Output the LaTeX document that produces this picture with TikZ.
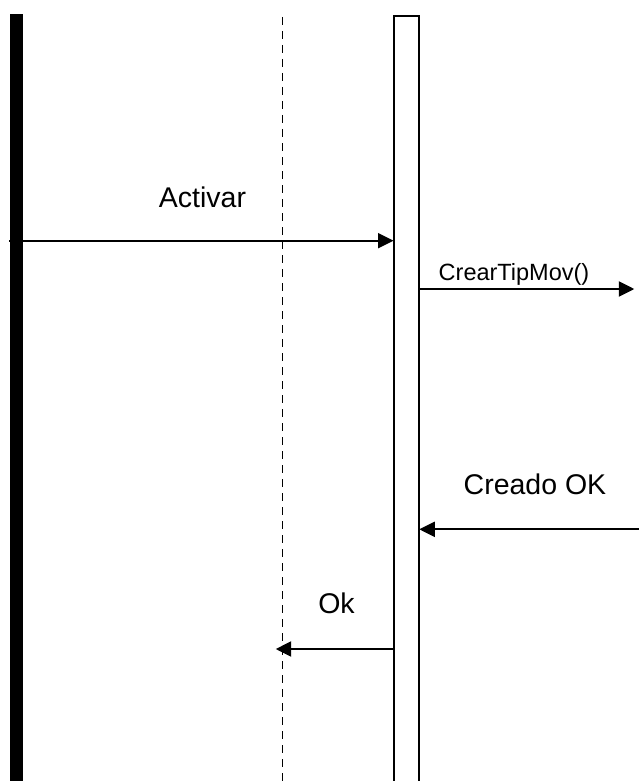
\documentclass[tikz,border=0pt]{standalone}
\usepackage{fontspec}
\setmainfont{Liberation Sans}
\usetikzlibrary{arrows.meta,positioning}

\begin{document}
\begin{tikzpicture}[x=1pt,y=-1pt,>={Triangle[length=15.5pt,width=15pt]},
    msg/.style={->,line width=2pt},
    lbl/.style={anchor=base,inner sep=0pt,font=\fontsize{28.5}{34}\selectfont},
    lblsmall/.style={anchor=base,inner sep=0pt,font=\fontsize{23.5}{28}\selectfont}]
  \useasboundingbox (0,0) rectangle (638,781);
  % lifelines
  \node[fill=black,inner sep=0pt,outer sep=0pt,minimum width=12.3pt,minimum height=800pt,anchor=north west] (actor) at (10.3,14.3) {};
  \coordinate (dtop) at (282.3,17);
  \coordinate (dbot) at (282.3,800);
  \draw[line width=1.5pt,dash pattern=on 8pt off 6pt] (dtop)--(dbot);
  \node[draw,line width=2pt,fill=white,inner sep=0pt,outer sep=0pt,minimum width=25.8pt,minimum height=800pt,anchor=north west] (ctrl) at (393.5,16.5) {};
  % messages
  \coordinate (outR) at (634.3,289);
  \coordinate (inR) at (640,529.3);
  \draw[msg] ([xshift=-1.3pt]actor.west |- 0,240.7)--(ctrl.west |- 0,240.7);
  \draw[msg] (ctrl.east |- outR)--(outR);
  \draw[msg] (inR)--(ctrl.east |- inR);
  \draw[msg] (ctrl.west |- 0,649)--([xshift=-6.6pt]dtop |- 0,649);
  \node[lbl] (activar) at (202.5,207) {Activar};
  \node[lblsmall] (crear) at (514,280) {CrearTipMov()};
  \node[lbl] (creado) at (535,494) {Creado OK};
  \node[lbl] (ok) at (336.5,613) {Ok};
\end{tikzpicture}
\end{document}
